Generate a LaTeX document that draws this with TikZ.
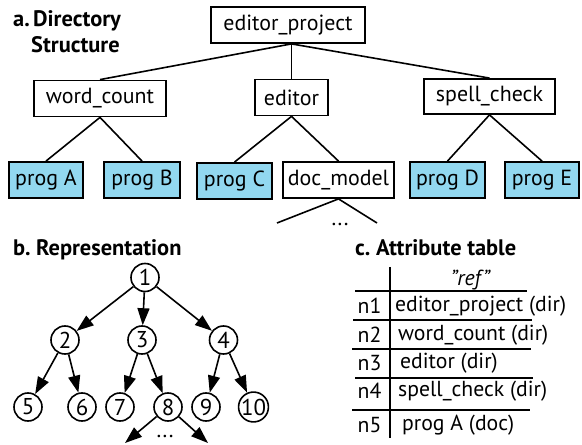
\documentclass[tikz,border=0pt]{standalone}
\usepackage{fontspec}
\setmainfont{PT Sans}
\usetikzlibrary{arrows.meta}
\definecolor{progblue}{RGB}{146,216,240}
\tikzset{
  every node/.style={font=\fontsize{22}{26}\selectfont},
  dirbox/.style={draw, line width=1.8bp, inner sep=0pt, minimum height=36bp},
  progbox/.style={dirbox, fill=progblue},
  conn/.style={line width=1.6bp},
  numc/.style={draw, circle, line width=1.6bp, minimum size=28bp, inner sep=0pt, font=\fontsize{23}{26}\selectfont},
  arr/.style={line width=1.6bp, -{Triangle[length=17bp,width=12bp]}},
  heading/.style={font=\fontsize{22.5}{26}\selectfont\bfseries, anchor=base west, inner sep=0pt},
  tline/.style={line width=1.5bp},
  ttext/.style={font=\fontsize{21.8}{26}\selectfont, inner sep=0pt}
}
\begin{document}
\begin{tikzpicture}[x=1bp,y=-1bp]
\useasboundingbox (0,0) rectangle (582,445);
% a. Directory structure
\node[heading] (la) at (13,27) {a.};
\node[heading] (la1) at (33,27) {Directory};
\node[heading] (la2) at (31,53) {Structure};

\node[dirbox, minimum width=154bp] (ep) at (288,25) {editor\_project};
\node[dirbox, minimum width=132bp] (wc) at (100,98.5) {word\_count};
\node[dirbox, minimum width=73bp] (ed) at (291.5,97.5) {editor};
\node[dirbox, minimum width=131bp, minimum height=35bp] (sc) at (489.5,96.5) {spell\_check};

\node[progbox, minimum width=74bp] (pA) at (46,180) {prog A};
\node[progbox, minimum width=76bp] (pB) at (142,180) {prog B};
\node[progbox, minimum width=75bp] (pC) at (234.5,181) {prog C};
\node[dirbox, minimum width=111bp] (dm) at (338.5,180) {doc\_model};
\node[progbox, minimum width=75bp] (pD) at (447.5,180) {prog D};
\node[progbox, minimum width=74bp] (pE) at (542,180) {prog E};

\coordinate (j) at (ep.south -| ed.north);
\draw[conn] (j) -- (wc.north);
\draw[conn] (j) -- (ed.north);
\draw[conn] (j) -- (sc.north);
\draw[conn] (wc.south) -- (pA.north);
\draw[conn] (wc.south) -- (pB.north);
\draw[conn] (ed.south) -- (pC.north);
\draw[conn] (ed.south) -- (dm.north);
\draw[conn] (sc.south) -- (pD.north);
\draw[conn] (sc.south) -- (pE.north);
\coordinate (dl) at (277,223);
\coordinate (dr) at (377,223);
\draw[conn] (dm.south) -- (dl);
\draw[conn] (dm.south) -- (dr);
\node (ddots) at (340,224) {...};

% b. Representation
\node[heading] (lb) at (13,256) {b.\ Representation};
\node[numc] (c1) at (145,277.5) {1};
\node[numc] (c2) at (65,340) {2};
\node[numc] (c3) at (142,340) {3};
\node[numc] (c4) at (223.5,340) {4};
\node[numc] (c5) at (28,407) {5};
\node[numc] (c6) at (82,407) {6};
\node[numc] (c7) at (120,407) {7};
\node[numc] (c8) at (168,407) {8};
\node[numc] (c9) at (206,407) {9};
\node[numc] (c10) at (253.5,407) {10};
\draw[arr] (c1) -- (c2);
\draw[arr] (c1) -- (c3);
\draw[arr] (c1) -- (c4);
\draw[arr] (c2) -- (c5);
\draw[arr] (c2) -- (c6);
\draw[arr] (c3) -- (c7);
\draw[arr] (c3) -- (c8);
\draw[arr] (c4) -- (c9);
\draw[arr] (c4) -- (c10);
\coordinate (bl) at (125,443);
\coordinate (br) at (208,443);
\draw[arr] (c8) -- (bl);
\draw[arr] (c8) -- (br);
\node (bdots) at (165,436) {...};

% c. Attribute table
\node[heading] (lc) at (355,256) {c.\ Attribute table};
\coordinate (vt) at (390,267);
\coordinate (vb) at (390,438);
\draw[tline] (vt) -- (vb);
\node[ttext] (ref) at (470,280) {\itshape "ref"};
\coordinate (h1l) at (355,291); \coordinate (h1r) at (527,291);
\coordinate (h2l) at (353,320); \coordinate (h2r) at (532,320);
\coordinate (h3l) at (352,349); \coordinate (h3r) at (531,349);
\coordinate (h4l) at (355,378); \coordinate (h4r) at (533,378);
\coordinate (h5l) at (352,410); \coordinate (h5r) at (530,410);
\draw[tline] (h1l) -- (h1r);
\draw[tline] (h2l) -- (h2r);
\draw[tline] (h3l) -- (h3r);
\draw[tline] (h4l) -- (h4r);
\draw[tline] (h5l) -- (h5r);
\node[ttext] (n1) at (369.5,306) {n1};
\node[ttext] (n2) at (369.5,335) {n2};
\node[ttext] (n3) at (369.5,363) {n3};
\node[ttext] (n4) at (369.5,391) {n4};
\node[ttext] (n5) at (369.5,425) {n5};
\node[ttext, anchor=west] (t1) at (395,306) {editor\_project (dir)};
\node[ttext, anchor=west] (t2) at (398,335) {word\_count (dir)};
\node[ttext, anchor=west] (t3) at (400,363) {editor (dir)};
\node[ttext, anchor=west] (t4) at (398,391) {spell\_check (dir)};
\node[ttext, anchor=west] (t5) at (402,425) {prog A (doc)};
\end{tikzpicture}
\end{document}
